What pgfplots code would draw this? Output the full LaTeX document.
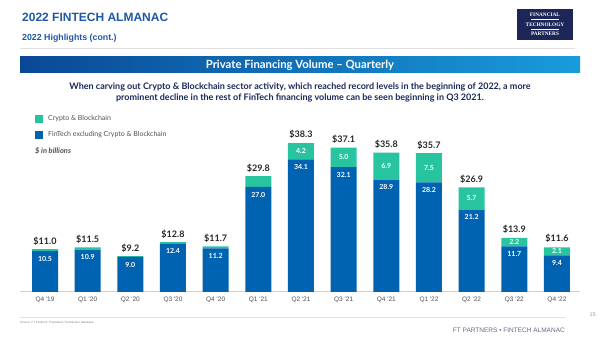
\documentclass[border=0pt]{standalone}
\usepackage{pgfplots}
\usepackage{pgfplotstable}
\pgfplotsset{compat=1.18}
\usepackage{fontspec}
\setmainfont{Lato}
\newfontfamily\arialf{Liberation Sans}
\newfontfamily\serifl{Liberation Serif}
\definecolor{fblue}{RGB}{0,99,178}
\definecolor{fteal}{RGB}{40,196,160}
\definecolor{ttl}{RGB}{30,88,165}
\definecolor{navy}{RGB}{28,38,87}
\definecolor{ban1}{RGB}{10,72,150}
\definecolor{ban2}{RGB}{25,155,220}
\definecolor{subt}{RGB}{25,40,90}
\definecolor{txtgray}{RGB}{80,80,80}

\pgfplotstableread{
x fin cry tot
0 10.5 0.5 11.0
1 10.9 0.6 11.5
2 9.0 0.2 9.2
3 12.4 0.4 12.8
4 11.2 0.5 11.7
5 27.0 2.8 29.8
6 34.1 4.2 38.3
7 32.1 5.0 37.1
8 28.9 6.9 35.8
9 28.2 7.5 35.7
10 21.2 5.7 26.9
11 11.7 2.2 13.9
12 9.4 2.1 11.6
}\datatable

\pgfplotstableread{
x cry ymid
6 4.2 36.2
7 5.0 34.6
8 6.9 32.35
9 7.5 31.95
10 5.7 24.05
11 2.2 12.8
12 2.1 10.45
}\tealtable

\begin{document}
\begin{tikzpicture}[x=1pt,y=1pt]
\path[use as bounding box] (0,0) rectangle (600,337);
% header
\node[anchor=base west, inner sep=0, text=ttl, font=\arialf\bfseries\fontsize{12}{14}\selectfont] at (22,315) {2022 FINTECH ALMANAC};
\node[anchor=base west, inner sep=0, text=ttl, font=\arialf\bfseries\fontsize{8.8}{10}\selectfont] at (22,296) {2022 Highlights (cont.)};
\draw[draw=black!12, line width=0.8pt] (20,289) -- (575,289);
% logo
\fill[navy] (517,297) rectangle (573,328);
\node[text=white, font=\serifl\bfseries\fontsize{5.3}{6}\selectfont, inner sep=0] at (545,322) {FINANCIAL};
\node[text=white, font=\serifl\bfseries\fontsize{5.3}{6}\selectfont, inner sep=0] at (545,312.5) {TECHNOLOGY};
\node[text=white, font=\serifl\bfseries\fontsize{5.3}{6}\selectfont, inner sep=0] at (545,303) {PARTNERS};
\draw[white, line width=0.3pt] (531,317.5) -- (559,317.5);
\draw[white, line width=0.3pt] (531,307.5) -- (559,307.5);
% banner
\shade[left color=ban1, right color=ban2] (20,264) rectangle (580,280);
\node[text=white, font=\bfseries\fontsize{11.3}{12}\selectfont] at (300,272) {Private Financing Volume -- Quarterly};
\node[text=subt, font=\bfseries\fontsize{9}{11.3}\selectfont, align=center] at (300,244.5) {When carving out Crypto \& Blockchain sector activity, which reached record levels in the beginning of 2022, a more\\prominent decline in the rest of FinTech financing volume can be seen beginning in Q3 2021.};
% legend
\fill[fteal] (35,214) rectangle (43,222);
\node[anchor=west, text=txtgray, font=\fontsize{7}{8}\selectfont, inner sep=0] at (48,218) {Crypto \& Blockchain};
\fill[fblue] (35,198) rectangle (43,206);
\node[anchor=west, text=txtgray, font=\fontsize{7}{8}\selectfont, inner sep=0] at (48,202) {FinTech excluding Crypto \& Blockchain};
\node[anchor=west, text=txtgray, font=\itshape\bfseries\fontsize{7.5}{8}\selectfont, inner sep=0] at (35,186) {\$ in billions};
% chart
\begin{axis}[at={(20pt,45pt)}, anchor=south west, scale only axis,
  width=560pt, height=155.6pt, ybar stacked, bar width=26pt,
  ymin=0, ymax=40, xmin=-0.586, xmax=12.54,
  axis x line=bottom, axis y line=none,
  x axis line style={-, draw=black!18, line width=1pt},
  xtick={0,...,12}, major tick length=0pt,
  xticklabels={Q4 '19,Q1 '20,Q2 '20,Q3 '20,Q4 '20,Q1 '21,Q2 '21,Q3 '21,Q4 '21,Q1 '22,Q2 '22,Q3 '22,Q4 '22},
  xticklabel style={font=\arialf\fontsize{6.5}{8}\selectfont, text=txtgray, yshift=-1pt},
  clip=false]
\addplot[fill=fblue, draw=none] table[x=x, y=fin]{\datatable};
\addplot[fill=fteal, draw=none] table[x=x, y=cry]{\datatable};
\end{axis}
\begin{axis}[at={(20pt,45pt)}, anchor=south west, scale only axis,
  width=560pt, height=155.6pt, ymin=0, ymax=40, xmin=-0.586, xmax=12.54,
  hide axis, clip=false,
  /pgf/number format/.cd, fixed, fixed zerofill, precision=1, assume math mode=true]
\addplot[draw=none, mark=none, nodes near coords, point meta=explicit,
  nodes near coords style={font=\bfseries\fontsize{7}{8}\selectfont, text=white, anchor=north, yshift=-1.5pt}]
  table[x=x, y=fin, meta=fin]{\datatable};
\addplot[draw=none, mark=none, nodes near coords, point meta=explicit,
  nodes near coords style={font=\bfseries\fontsize{7}{8}\selectfont, text=white, anchor=center}]
  table[x=x, y=ymid, meta=cry]{\tealtable};
\addplot[draw=none, mark=none, nodes near coords={\$\pgfmathprintnumber{\pgfplotspointmeta}}, point meta=explicit,
  nodes near coords style={font=\bfseries\fontsize{9}{10}\selectfont, text=black!85, anchor=south, yshift=0.5pt}]
  table[x=x, y=tot, meta=tot]{\datatable};
\end{axis}
% footer
\draw[draw=black!12, line width=1pt] (20,19) -- (565,19);
\node[anchor=base west, inner sep=0, text=black!50, font=\arialf\fontsize{3}{4}\selectfont] at (20,13.5) {Source: FT Partners' Proprietary Transaction Database};
\node[anchor=base east, inner sep=0, text=black!40, font=\arialf\fontsize{5.5}{6}\selectfont] at (596,20) {15};
\node[anchor=base east, inner sep=0, text=black!40!blue!20!gray, font=\arialf\fontsize{6.5}{8}\selectfont] at (565,4) {FT PARTNERS \textbullet\ FINTECH ALMANAC};
\end{tikzpicture}
\end{document}
